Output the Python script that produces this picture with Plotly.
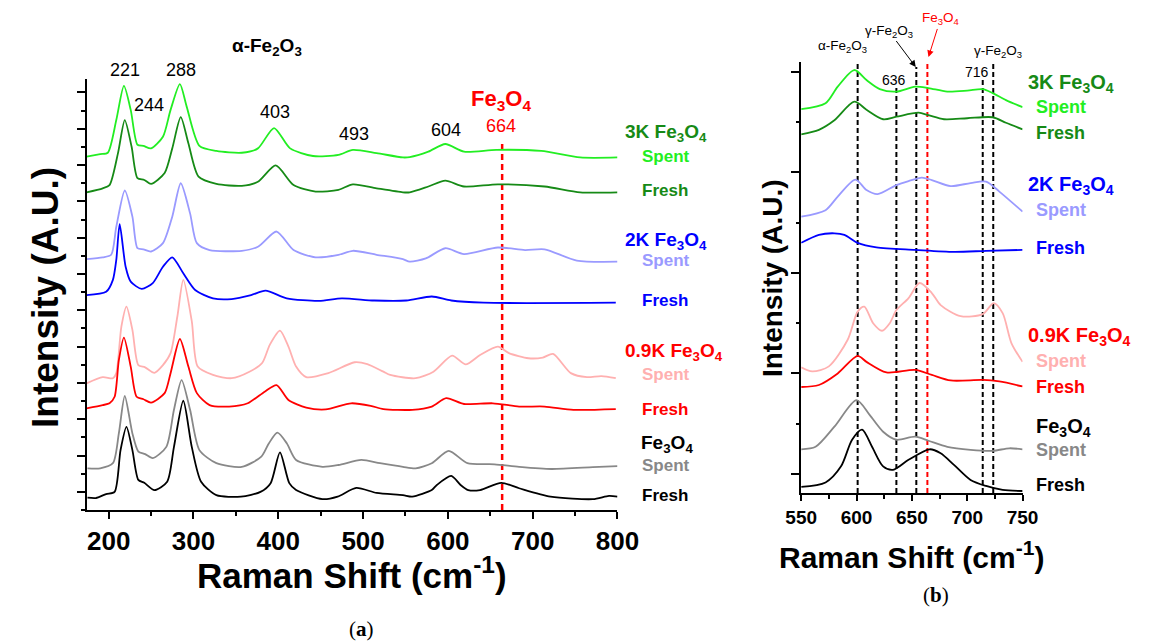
import plotly.graph_objects as go

FONT = "Liberation Sans, Arial, sans-serif"

# ---------------- Panel (a) data: Raman shift (cm-1) and stacked intensity (A.U.)
a_fe_fresh_x = [175, 185, 197, 207, 214, 221, 228, 235, 242, 254, 269, 277, 288, 298, 309, 327, 356, 379, 391, 402, 413, 421, 452, 470, 492, 516, 547, 558, 581, 587, 604, 615, 624, 638, 663, 684, 721, 771, 790, 800]
a_fe_fresh_y = [3.4, 3.3, 4.4, 5.0, 16.5, 22.9, 16.5, 8.3, 7.5, 5.5, 7.8, 17.4, 30.1, 17.4, 7.8, 4.1, 3.7, 5.0, 7.4, 15.9, 7.4, 5.5, 3.0, 3.7, 6.1, 4.7, 4.1, 3.7, 5.5, 6.9, 9.4, 6.9, 5.5, 5.5, 7.5, 6.0, 3.7, 3.0, 3.9, 3.7]

a_fe_spent_x = [175, 190, 205, 212, 219, 228, 235, 243, 252, 268, 277, 286, 296, 307, 327, 357, 380, 389, 399, 410, 421, 452, 471, 498, 520, 547, 562, 581, 601, 623, 655, 684, 722, 771, 800]
a_fe_spent_y = [11.5, 11.5, 12.9, 21.1, 31.4, 21.1, 16.1, 15.4, 14.3, 17.4, 27.6, 35.8, 27.6, 16.5, 12.9, 11.9, 14.7, 18.4, 21.3, 18.4, 13.8, 11.9, 12.4, 13.8, 12.9, 11.9, 11.5, 12.9, 16.3, 12.9, 12.6, 11.9, 11.3, 11.8, 12.1]

a_09_fresh_x = [174, 193, 201, 207, 212, 218, 226, 233, 241, 250, 266, 273, 284, 294, 304, 319, 342, 364, 384, 398, 412, 433, 456, 486, 509, 524, 558, 581, 598, 619, 653, 684, 714, 748, 798]
a_09_fresh_y = [28.0, 28.9, 29.4, 31.2, 41.3, 47.5, 39.5, 31.2, 30.5, 29.6, 32.2, 37.7, 47.1, 39.5, 32.2, 28.9, 28.5, 29.4, 32.6, 34.4, 30.3, 28.2, 27.7, 29.4, 28.7, 27.8, 27.6, 28.5, 30.8, 29.2, 29.4, 28.5, 28.5, 27.6, 27.8]

a_09_spent_x = [174, 193, 205, 209, 215, 221, 228, 235, 243, 254, 264, 273, 281, 288, 298, 305, 323, 345, 366, 381, 390, 402, 412, 421, 433, 459, 490, 505, 524, 532, 562, 583, 605, 621, 638, 659, 672, 695, 712, 724, 745, 764, 781, 798]
a_09_spent_y = [34.9, 36.6, 36.3, 37.7, 50.5, 56.0, 49.6, 39.9, 39.3, 37.8, 39.9, 43.2, 53.3, 63.4, 52.0, 39.5, 37.2, 36.3, 38.1, 40.5, 45.5, 49.4, 45.0, 39.5, 36.6, 37.7, 40.7, 40.2, 38.1, 37.2, 36.3, 38.1, 42.5, 40.1, 42.7, 45.0, 43.2, 41.8, 42.0, 43.0, 37.7, 36.6, 36.9, 36.3]

a_2k_fresh_x = [174, 197, 205, 209, 213, 220, 226, 239, 252, 264, 275, 288, 302, 323, 345, 368, 385, 410, 448, 475, 513, 551, 581, 604, 642, 798]
a_2k_fresh_y = [59.2, 60.1, 63.4, 68.9, 78.7, 67.0, 62.9, 60.9, 62.5, 67.0, 69.6, 65.2, 60.6, 58.3, 58.1, 59.2, 60.4, 58.3, 57.6, 58.3, 57.7, 57.7, 58.8, 57.7, 57.1, 57.1]

a_2k_spent_x = [174, 193, 203, 209, 219, 228, 234, 241, 250, 264, 275, 285, 296, 304, 319, 357, 376, 398, 418, 444, 471, 488, 516, 547, 555, 574, 597, 619, 659, 691, 714, 752, 800]
a_2k_spent_y = [69.1, 69.6, 70.3, 78.0, 88.0, 80.8, 72.1, 71.8, 71.2, 73.5, 80.8, 90.0, 81.7, 73.5, 71.6, 71.4, 72.5, 76.7, 71.6, 69.6, 70.3, 71.4, 70.3, 69.1, 68.4, 69.3, 72.1, 70.5, 72.3, 71.6, 71.8, 68.7, 68.4]

a_3k_fresh_x = [174, 193, 201, 211, 219, 227, 234, 242, 250, 266, 275, 285, 294, 306, 327, 357, 376, 397, 418, 444, 471, 488, 516, 547, 555, 577, 597, 619, 659, 714, 756, 800]
a_3k_fresh_y = [87.5, 88.6, 89.5, 98.3, 107.4, 100.1, 91.4, 90.9, 89.8, 92.8, 99.6, 108.2, 101.0, 91.8, 89.8, 89.3, 90.4, 94.9, 89.5, 87.7, 88.2, 89.7, 88.6, 87.5, 87.5, 89.1, 90.7, 89.1, 89.7, 89.1, 87.5, 87.5]

a_3k_spent_x = [174, 190, 199, 209, 218, 226, 234, 241, 250, 264, 273, 284, 292, 307, 327, 357, 376, 395, 414, 441, 471, 488, 516, 547, 555, 577, 597, 619, 657, 710, 756, 800]
a_3k_spent_y = [97.3, 98.0, 98.4, 107.4, 116.8, 110.2, 100.6, 100.3, 99.6, 102.8, 110.2, 117.3, 111.1, 100.3, 98.9, 98.4, 99.6, 105.2, 99.6, 97.5, 97.8, 99.2, 98.3, 97.1, 97.2, 98.7, 100.8, 98.7, 99.2, 98.9, 97.1, 97.1]

# ---------------- Panel (b) data
b_3k_spent_x = [550, 572, 583, 598, 609, 621, 636, 653, 665, 682, 700, 714, 723, 735, 750]
b_3k_spent_y = [72.6, 73.8, 77.1, 80.4, 78.4, 76.6, 76.1, 77.1, 76.8, 76.1, 76.3, 76.6, 75.8, 74.4, 73.0]
b_3k_fresh_x = [550, 566, 580, 598, 609, 624, 636, 656, 665, 679, 700, 723, 735, 750]
b_3k_fresh_y = [67.6, 68.5, 70.4, 74.1, 72.5, 70.6, 71.1, 71.9, 71.4, 70.6, 70.8, 71.0, 69.9, 68.6]
b_2k_spent_x = [550, 572, 583, 599, 609, 619, 636, 647, 659, 668, 685, 703, 717, 729, 750]
b_2k_spent_y = [51.2, 52.5, 55.2, 58.6, 56.5, 55.7, 57.5, 58.3, 59.0, 58.5, 57.3, 57.9, 58.2, 56.2, 52.2]
b_2k_fresh_x = [550, 566, 580, 589, 601, 618, 653, 688, 717, 750]
b_2k_fresh_y = [46.0, 47.6, 47.9, 47.6, 46.0, 45.1, 44.6, 44.2, 44.4, 44.6]
b_09_spent_x = [550, 560, 575, 592, 601, 607, 615, 623, 630, 636, 647, 657, 668, 676, 694, 714, 724, 732, 740, 750]
b_09_spent_y = [21.2, 20.4, 21.4, 26.7, 32.3, 33.3, 30.0, 28.5, 30.0, 32.6, 35.0, 38.0, 36.0, 33.6, 31.4, 31.8, 34.0, 32.0, 26.0, 22.3]
b_09_fresh_x = [550, 566, 583, 601, 609, 627, 653, 668, 685, 714, 729, 750]
b_09_fresh_y = [17.3, 17.7, 20.0, 23.5, 22.3, 20.2, 20.7, 19.7, 18.6, 18.7, 18.4, 17.4]
b_fe_spent_x = [550, 563, 580, 600, 612, 624, 636, 653, 665, 682, 703, 723, 738, 750]
b_fe_spent_y = [4.9, 5.4, 9.4, 14.7, 11.7, 8.4, 6.8, 7.4, 6.6, 5.4, 4.8, 4.6, 5.1, 4.9]
b_fe_fresh_x = [550, 572, 586, 596, 605, 614, 624, 633, 647, 666, 676, 688, 703, 717, 732, 750]
b_fe_fresh_y = [-2.6, -1.7, 1.5, 6.8, 8.8, 5.4, 1.5, 0.8, 2.8, 4.9, 4.1, 1.8, -1.2, -2.4, -3.2, -3.4]

# reference band positions / label anchor points (cm-1, A.U.)
a_peak_labels = ["221", "244", "288", "403", "493", "604"]
a_peak_x = [219, 247, 285, 396, 489, 598]
a_peak_y = [121.2, 111.6, 121.2, 109.6, 103.6, 104.7]
fe3o4_band = 664
a_fe3o4_top = 100.8
b_black_bands = [601, 636, 654, 714, 723.5]
b_black_tops = [82.0, 77.2, 81.0, 78.7, 82.0]
b_red_top = 82.0

C_LGREEN = "#22ee22"
C_DGREEN = "#168a16"
C_LBLUE = "#9a9aff"
C_BLUE = "#0000ff"
C_PINK = "#ffb0b0"
C_RED = "#ff0000"
C_GRAY = "#888888"
C_BLACK = "#000000"

series_a = [
    (a_3k_spent_x, a_3k_spent_y, C_LGREEN), (a_3k_fresh_x, a_3k_fresh_y, C_DGREEN),
    (a_2k_spent_x, a_2k_spent_y, C_LBLUE), (a_2k_fresh_x, a_2k_fresh_y, C_BLUE),
    (a_09_spent_x, a_09_spent_y, C_PINK), (a_09_fresh_x, a_09_fresh_y, C_RED),
    (a_fe_spent_x, a_fe_spent_y, C_GRAY), (a_fe_fresh_x, a_fe_fresh_y, C_BLACK),
]
series_b = [
    (b_3k_spent_x, b_3k_spent_y, C_LGREEN), (b_3k_fresh_x, b_3k_fresh_y, C_DGREEN),
    (b_2k_spent_x, b_2k_spent_y, C_LBLUE), (b_2k_fresh_x, b_2k_fresh_y, C_BLUE),
    (b_09_spent_x, b_09_spent_y, C_PINK), (b_09_fresh_x, b_09_fresh_y, C_RED),
    (b_fe_spent_x, b_fe_spent_y, C_GRAY), (b_fe_fresh_x, b_fe_fresh_y, C_BLACK),
]

A_XMIN, A_XMAX = 174, 800
A_YMIN, A_YMAX = 0, 118.7
B_XMIN, B_XMAX = 550, 750
B_YMIN, B_YMAX = -3.8, 82.0

fig = go.Figure()

# dashed reference lines
fig.add_trace(go.Scatter(x=[fe3o4_band, fe3o4_band], y=[A_YMIN, a_fe3o4_top], mode="lines",
                         line=dict(color=C_RED, width=2.5, dash="6px,4px"), xaxis="x", yaxis="y",
                         hoverinfo="skip", showlegend=False))
for bx, bt in zip(b_black_bands, b_black_tops):
    fig.add_trace(go.Scatter(x=[bx, bx], y=[B_YMIN, bt], mode="lines",
                             line=dict(color=C_BLACK, width=2, dash="5px,3px"), xaxis="x2", yaxis="y2",
                             hoverinfo="skip", showlegend=False))
fig.add_trace(go.Scatter(x=[fe3o4_band, fe3o4_band], y=[B_YMIN, b_red_top], mode="lines",
                         line=dict(color=C_RED, width=2, dash="5px,3px"), xaxis="x2", yaxis="y2",
                         hoverinfo="skip", showlegend=False))

for xs, ys, c in series_a:
    fig.add_trace(go.Scatter(x=xs, y=ys, mode="lines", line=dict(color=c, width=1.8, shape="spline", smoothing=0.7),
                             xaxis="x", yaxis="y", showlegend=False))
for xs, ys, c in series_b:
    fig.add_trace(go.Scatter(x=xs, y=ys, mode="lines", line=dict(color=c, width=1.8, shape="spline", smoothing=0.8),
                             xaxis="x2", yaxis="y2", showlegend=False))

ann = []
def dom(v, lo, hi):
    return (v - lo) / (hi - lo)

def A(text, x, y, panel, size, color="black", xanchor="center", yanchor="middle", family=FONT, **kw):
    # place label at data position (cm-1, A.U.) using domain refs so it may sit outside the axis range
    if panel == "a":
        xd, yd, xr, yr = dom(x, A_XMIN, A_XMAX), dom(y, A_YMIN, A_YMAX), "x domain", "y domain"
    else:
        xd, yd, xr, yr = dom(x, B_XMIN, B_XMAX), dom(y, B_YMIN, B_YMAX), "x2 domain", "y2 domain"
    d = dict(text=text, x=xd, y=yd, xref=xr, yref=yr, showarrow=False, xanchor=xanchor, yanchor=yanchor,
             font=dict(family=family, size=size, color=color))
    d.update(kw)
    ann.append(d)

def P(text, x, y, size, angle=0, family=FONT):
    ann.append(dict(text=text, x=x, y=y, xref="paper", yref="paper", showarrow=False, xanchor="center",
                    yanchor="middle", textangle=angle, font=dict(family=family, size=size, color="black")))

# panel a labels
A("<b>α-Fe<sub>2</sub>O<sub>3</sub></b>", 387, 127.6, "a", 19)
for t, px_, py_ in zip(a_peak_labels, a_peak_x, a_peak_y):
    A(t, px_, py_, "a", 18)
A("664", 663, 105.8, "a", 18, C_RED)
A("<b>Fe<sub>3</sub>O<sub>4</sub></b>", 663, 113.0, "a", 22, C_RED)

a_group = [("<b>3K Fe<sub>3</sub>O<sub>4</sub></b>", 103.9, C_DGREEN, 807), ("<b>Spent</b>", 97.5, C_LGREEN, 827),
           ("<b>Fresh</b>", 87.9, C_DGREEN, 827), ("<b>2K Fe<sub>3</sub>O<sub>4</sub></b>", 74.1, C_BLUE, 807),
           ("<b>Spent</b>", 68.6, C_LBLUE, 827), ("<b>Fresh</b>", 57.6, C_BLUE, 827),
           ("<b>0.9K Fe<sub>3</sub>O<sub>4</sub></b>", 43.5, C_RED, 807), ("<b>Spent</b>", 37.2, C_PINK, 827),
           ("<b>Fresh</b>", 27.6, C_RED, 827), ("<b>Fe<sub>3</sub>O<sub>4</sub></b>", 18.2, C_BLACK, 825),
           ("<b>Spent</b>", 12.4, C_GRAY, 827), ("<b>Fresh</b>", 4.1, C_BLACK, 827)]
for t, yv, c, xv in a_group:
    A(t, xv, yv, "a", 19 if "Fe" in t else 17, c, xanchor="left")

# panel b labels
A("α-Fe<sub>2</sub>O<sub>3</sub>", 587.6, 85.0, "b", 13.5)
A("γ-Fe<sub>2</sub>O<sub>3</sub>", 728.2, 84.0, "b", 13.5)
A("636", 633.8, 78.4, "b", 14)
A("716", 709, 80.0, "b", 14)
A("γ-Fe<sub>2</sub>O<sub>3</sub>", 653.5, 81.0, "b", 13.5, showarrow=True, ax=-27, ay=-36,
  arrowhead=2, arrowsize=1.3, arrowwidth=1, arrowcolor="black")
A("Fe<sub>3</sub>O<sub>4</sub>", 665, 83.0, "b", 13.5, C_RED, showarrow=True, ax=12, ay=-38,
  arrowhead=2, arrowsize=1.3, arrowwidth=1, arrowcolor=C_RED)
b_group = [("<b>3K Fe<sub>3</sub>O<sub>4</sub></b>", 77.8, C_DGREEN, 753.5), ("<b>Spent</b>", 73.1, C_LGREEN, 760.5),
           ("<b>Fresh</b>", 67.9, C_DGREEN, 760.5), ("<b>2K Fe<sub>3</sub>O<sub>4</sub></b>", 57.5, C_BLUE, 753.5),
           ("<b>Spent</b>", 52.5, C_LBLUE, 760.5), ("<b>Fresh</b>", 45.0, C_BLUE, 760.5),
           ("<b>0.9K Fe<sub>3</sub>O<sub>4</sub></b>", 27.3, C_RED, 753.5), ("<b>Spent</b>", 22.5, C_PINK, 760.5),
           ("<b>Fresh</b>", 17.3, C_RED, 760.5), ("<b>Fe<sub>3</sub>O<sub>4</sub></b>", 9.2, C_BLACK, 760.5),
           ("<b>Spent</b>", 4.8, C_GRAY, 760.5), ("<b>Fresh</b>", -2.2, C_BLACK, 760.5)]
for t, yv, c, xv in b_group:
    A(t, xv, yv, "b", 20 if "Fe" in t else 18, c, xanchor="left")

# axis titles and panel letters
P("<b>Raman Shift (cm<sup>-1</sup>)</b>", 0.302, 0.109, 35)
P("<b>Intensity (A.U.)</b>", 0.026, 0.538, 37, angle=-90)
P("<b>Raman Shift (cm<sup>-1</sup>)</b>", 0.8057, 0.137, 30)
P("<b>Intensity (A.U.)</b>", 0.681, 0.568, 28, angle=-90)
P("(<b>a</b>)", 0.3104, 0.021, 21, family="Liberation Serif, serif")
P("(<b>b</b>)", 0.827, 0.075, 21, family="Liberation Serif, serif")

axis_common = dict(showline=True, linewidth=2, linecolor="black", showgrid=False, zeroline=False,
                   ticks="outside", tickcolor="black", tickwidth=1.5)

fig.update_layout(
    width=1150, height=643, margin=dict(l=0, r=0, t=0, b=0),
    paper_bgcolor="white", plot_bgcolor="white", showlegend=False,
    annotations=ann,
    xaxis=dict(domain=[0.0635, 0.5409], range=[A_XMIN, A_XMAX], anchor="y", tickmode="linear", tick0=0, dtick=100,
               ticklen=7, tickfont=dict(family=FONT, size=26, color="black", weight="bold"),
               minor=dict(dtick=50, ticks="outside", ticklen=4, tickwidth=1.5, tickcolor="black"), **axis_common),
    yaxis=dict(domain=[0.2068, 0.8771], range=[A_YMIN, A_YMAX], anchor="x", tickmode="linear", tick0=5, dtick=10,
               ticklen=8, showticklabels=False,
               minor=dict(tick0=0, dtick=10, ticks="outside", ticklen=4, tickwidth=1.5, tickcolor="black"), **axis_common),
    xaxis2=dict(domain=[0.7061, 0.9052], range=[B_XMIN, B_XMAX], anchor="y2", tickmode="linear", tick0=550, dtick=50,
                ticklen=6, tickfont=dict(family=FONT, size=19, color="black", weight="bold"),
                minor=dict(dtick=25, ticks="outside", ticklen=4, tickwidth=1.5, tickcolor="black"), **axis_common),
    yaxis2=dict(domain=[0.2333, 0.9036], range=[B_YMIN, B_YMAX], anchor="x2", tickmode="linear", tick0=0, dtick=20,
                ticklen=8, showticklabels=False,
                minor=dict(tick0=10, dtick=20, ticks="outside", ticklen=3, tickwidth=1.5, tickcolor="black"), **axis_common),
)

fig.write_html("out.html")
